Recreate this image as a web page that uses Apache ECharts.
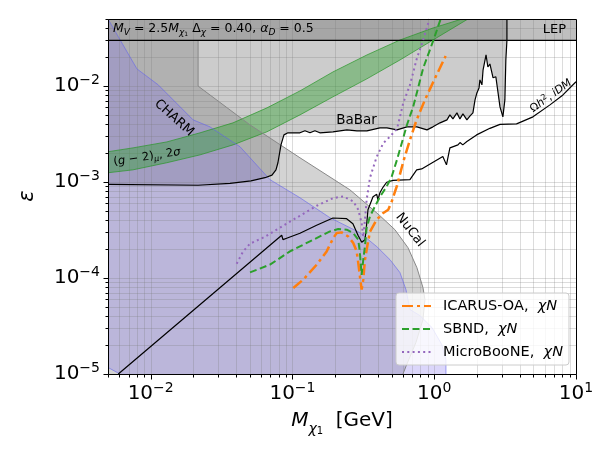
<!DOCTYPE html>
<html><head><meta charset="utf-8">
<script src="https://cdn.jsdelivr.net/npm/echarts@6/dist/echarts.min.js"></script>
<style>html,body{margin:0;padding:0;background:#fff;}#c{width:605px;height:456px;}</style>
</head><body><div id="c"></div>
<script>
// ---------------- data ----------------
const xRange = [0.005, 10];
const yRange = [1e-5, 0.05];
const xTicks = [0.01, 0.1, 1, 10];
const yTicks = [1e-5, 1e-4, 1e-3, 1e-2];
const minorMult = [1, 2, 3, 4, 5, 6, 7, 8, 9];
const lepEps = 0.03;

// CHARM / NuCal boundary
const charmEdge = [[0.0216,0.03],[0.0216,0.01],[0.0502,3.94e-3],[0.113,1.79e-3],[0.254,8.31e-4],[0.325,6.09e-4],[0.414,4.46e-4],[0.528,3.19e-4],[0.653,2.07e-4],[0.755,1.28e-4],[0.833,7.94e-5],[0.86,5.96e-5],[0.833,3.69e-5],[0.743,2.13e-5],[0.632,1.2e-5],[0.602,1e-5]];
// lavender region boundary
const lavEdge = [[0.005,0.05],[0.008,0.0151],[0.0113,0.0103],[0.0199,4.45e-3],[0.0262,3.76e-3],[0.0427,2.33e-3],[0.0694,1.06e-3],[0.113,6.86e-4],[0.184,4.25e-4],[0.299,2.97e-4],[0.394,2.12e-4],[0.488,1.55e-4],[0.573,1.14e-4],[0.632,7.57e-5],[0.675,4.69e-5],[0.793,4.06e-5],[0.964,3.05e-5],[1.13,2.03e-5],[1.21,1.41e-5],[1.21,1e-5]];
const lavCorner = [[0.00607,1e-5],[0.005,1.17e-5]];
// BaBar boundary
const babar = [[0.005,9.48e-4],[0.0216,9.26e-4],[0.0363,9.71e-4],[0.051,1.03e-3],[0.064,1.11e-3],[0.0717,1.18e-3],[0.0765,1.34e-3],[0.079,1.59e-3],[0.083,2.44e-3],[0.0871,3.1e-3],[0.093,3.26e-3],[0.113,3.26e-3],[0.1225,3.42e-3],[0.133,3.26e-3],[0.144,3.42e-3],[0.156,3.26e-3],[0.193,3.34e-3],[0.242,3.5e-3],[0.285,3.42e-3],[0.335,3.42e-3],[0.414,3.67e-3],[0.464,3.67e-3],[0.546,3.5e-3],[0.642,3.76e-3],[0.755,3.76e-3],[0.889,3.5e-3],[0.98,3.76e-3],[1.1,4.14e-3],[1.23,4.45e-3],[1.29,5.01e-3],[1.355,4.55e-3],[1.446,5.26e-3],[1.518,4.55e-3],[1.594,5.13e-3],[1.7,4.45e-3],[1.79,4.89e-3],[1.875,5.26e-3],[1.94,7.18e-3],[2.0,8.49e-3],[2.07,9.57e-3],[2.1,0.0116],[2.17,0.0103],[2.21,0.0147],[2.32,0.0211],[2.39,0.0158],[2.47,0.017],[2.6,0.0122],[2.72,0.0125],[2.91,6.07e-3],[3.05,4.78e-3],[3.15,7.18e-3],[3.2,0.0187],[3.257,0.03],[3.257,0.05]];
// (g-2) band
const g2Upper = [[0.005,2.07e-3],[0.0075,2.27e-3],[0.013,2.62e-3],[0.0223,3.26e-3],[0.0381,4.14e-3],[0.0661,5.93e-3],[0.113,8.91e-3],[0.193,0.01404],[0.335,0.0211],[0.573,0.0302],[0.98,0.0403],[1.57,0.05]];
const g2Lower = [[0.005,1.25e-3],[0.0075,1.34e-3],[0.013,1.59e-3],[0.0223,1.92e-3],[0.0381,2.44e-3],[0.0661,3.34e-3],[0.113,5.01e-3],[0.193,7.72e-3],[0.335,0.0119],[0.573,0.0187],[0.98,0.0302],[1.73,0.05]];
// relic target
const relic = [[0.00591,1e-5],[0.084,2.79e-4],[0.0857,2.51e-4],[0.091,2.6e-4],[0.113,2.93e-4],[0.148,3.55e-4],[0.193,4.22e-4],[0.241,4.15e-4],[0.267,3.68e-4],[0.29,2.79e-4],[0.308,2.36e-4],[0.325,2.51e-4],[0.334,3.68e-4],[0.341,5.15e-4],[0.37,7.03e-4],[0.393,7.46e-4],[0.401,6.54e-4],[0.414,7.73e-4],[0.435,8.82e-4],[0.462,9.95e-4],[0.512,1.04e-3],[0.674,1.06e-3],[0.752,1.34e-3],[0.815,1.37e-3],[1.15,1.85e-3],[1.22,1.51e-3],[1.29,2.27e-3],[1.33,2.35e-3],[1.47,2.44e-3],[1.52,2.58e-3],[1.59,2.44e-3],[1.7,2.64e-3],[1.99,3.1e-3],[2.47,3.63e-3],[2.91,3.99e-3],[3.81,4.04e-3],[4.97,4.78e-3],[6.55,6.37e-3],[8.09,8.09e-3],[10,0.0111]];
// sensitivities
const icarus = [[0.1014,7.88e-5],[0.1192,9.62e-5],[0.1482,1.378e-4],[0.1743,1.895e-4],[0.1941,2.61e-4],[0.205,2.94e-4],[0.2224,2.99e-4],[0.2474,2.71e-4],[0.2684,2.32e-4],[0.2837,1.9e-4],[0.2912,1.44e-4],[0.2992,1.04e-4],[0.3076,7.57e-5],[0.3158,9.62e-5],[0.3246,1.55e-4],[0.337,2.14e-4],[0.3521,3.04e-4],[0.3926,4.05e-4],[0.437,4.76e-4],[0.4738,5.15e-4],[0.5008,6.23e-4],[0.546,9.15e-4],[0.6048,1.63e-3],[0.6743,2.75e-3],[0.7516,4.45e-3],[0.86,7.18e-3],[0.984,0.01105],[1.204,0.0206]];
const sbnd = [[0.0502,1.146e-4],[0.0694,1.378e-4],[0.096,1.895e-4],[0.1328,2.41e-4],[0.1839,3.06e-4],[0.2104,3.24e-4],[0.2412,3.19e-4],[0.2684,2.94e-4],[0.2912,2.51e-4],[0.2992,1.82e-4],[0.3041,1.32e-4],[0.3076,1.08e-4],[0.3158,1.55e-4],[0.3246,2.14e-4],[0.3337,3.34e-4],[0.3521,4.38e-4],[0.3817,5.57e-4],[0.4143,7.03e-4],[0.4619,8.99e-4],[0.5008,1.135e-3],[0.546,1.705e-3],[0.6048,2.89e-3],[0.6423,3.95e-3],[0.7112,6.11e-3],[0.8367,0.01545],[0.9842,0.0297],[1.11,0.05]];
const uboone = [[0.0404,1.41e-4],[0.0448,1.88e-4],[0.0502,2.28e-4],[0.064,2.69e-4],[0.0861,3.51e-4],[0.113,4.46e-4],[0.1482,5.66e-4],[0.1941,6.81e-4],[0.2283,7.08e-4],[0.2684,6.28e-4],[0.2912,5.15e-4],[0.3076,3.74e-4],[0.3158,2.69e-4],[0.3246,4.05e-4],[0.3337,6.54e-4],[0.3521,1.108e-3],[0.3926,1.83e-3],[0.437,2.54e-3],[0.4873,2.98e-3],[0.546,3.58e-3],[0.573,4.78e-3],[0.6048,6.68e-3],[0.6743,0.01028],[0.7554,0.0196],[0.8325,0.0297],[0.9254,0.05]];

// ---------------- chart ----------------
const FONT = 'DejaVu Sans';
const chart = echarts.init(document.getElementById('c'), null, {renderer: 'canvas'});

function areaSeries(pts, fill, stroke) {
  return {type: 'custom', silent: true, clip: true, data: [pts[0]],
    renderItem: (p, api) => ({type: 'polygon',
      shape: {points: pts.map(q => api.coord(q))},
      style: {fill: fill, stroke: stroke || 'none', lineWidth: 1}})};
}
function lineSeries(name, pts, color, width, type, z) {
  return {type: 'line', name: name, data: pts, symbol: 'none', showSymbol: false, silent: true, clip: true,
    z: z || 3, lineStyle: {color: color, width: width, type: type || 'solid', cap: 'butt'},
    itemStyle: {color: color}};
}
function gridValues(bases, range) {
  const out = [];
  bases.forEach(b => minorMult.forEach(k => {
    const v = k * b;
    if (v >= range[0] * (1 - 1e-9) && v <= range[1] * (1 + 1e-9)) out.push({v: v, major: k === 1});
  }));
  return out;
}
const xGrid = gridValues([xTicks[0] / 10].concat(xTicks), xRange);
const yGrid = gridValues(yTicks, yRange);
const snap = v => Math.round(v) + 0.5;

function decoSeries(kind, z) {
  return {type: 'custom', silent: true, clip: false, z: z, data: [[xTicks[1], yTicks[1]]],
    renderItem: (p, api) => {
      const lb = api.coord([xRange[0], yRange[0]]), rt = api.coord([xRange[1], yRange[1]]);
      const L = snap(lb[0]), B = snap(lb[1]), R = snap(rt[0]), T = snap(rt[1]);
      const ch = [];
      if (kind === 'grid') {
        xGrid.forEach(g => { const x = snap(api.coord([g.v, yRange[0]])[0]);
          ch.push({type: 'line', shape: {x1: x, y1: T, x2: x, y2: B}, style: {stroke: 'rgba(120,120,120,0.26)', lineWidth: 1}}); });
        yGrid.forEach(g => { const y = snap(api.coord([xRange[0], g.v])[1]);
          ch.push({type: 'line', shape: {x1: L, y1: y, x2: R, y2: y}, style: {stroke: 'rgba(120,120,120,0.26)', lineWidth: 1}}); });
      } else {
        xGrid.forEach(g => { const x = snap(api.coord([g.v, yRange[0]])[0]);
          ch.push({type: 'line', shape: {x1: x, y1: B, x2: x, y2: B + (g.major ? 5 : 3)}, style: {stroke: '#000', lineWidth: 1}}); });
        yGrid.forEach(g => { const y = snap(api.coord([xRange[0], g.v])[1]);
          ch.push({type: 'line', shape: {x1: L, y1: y, x2: L - (g.major ? 5 : 3), y2: y}, style: {stroke: '#000', lineWidth: 1}}); });
        ch.push({type: 'rect', shape: {x: L, y: T, width: R - L, height: B - T}, style: {fill: 'none', stroke: '#000', lineWidth: 1}});
      }
      return {type: 'group', children: ch};
    }};
}

function powLabel(v) {
  const e = Math.log10(v), r = Math.round(e);
  if (Math.abs(e - r) > 1e-6) return '';
  return '{b|10}{s|' + (r < 0 ? '\u2212' : '') + Math.abs(r) + '}';
}
const tickRich = {
  b: {fontSize: 20, fontFamily: FONT, color: '#000', lineHeight: 26},
  s: {fontSize: 14, fontFamily: FONT, color: '#000', lineHeight: 14, verticalAlign: 'top'}
};

function rich(sz, subLh) {
  const lh = Math.round(sz * (subLh || 1.3));
  const base = {fontFamily: FONT, fill: '#000', color: '#000'};
  return {
    n: Object.assign({fontSize: sz, lineHeight: lh}, base),
    i: Object.assign({fontSize: sz, lineHeight: lh, fontStyle: 'italic'}, base),
    is: Object.assign({fontSize: Math.round(sz * 0.7), lineHeight: Math.round(sz * 0.7), fontStyle: 'italic', verticalAlign: 'bottom'}, base),
    ns: Object.assign({fontSize: Math.round(sz * 0.5), lineHeight: Math.round(sz * 0.5), verticalAlign: 'bottom'}, base),
    up: Object.assign({fontSize: Math.round(sz * 0.7), lineHeight: Math.round(sz * 0.7), verticalAlign: 'top'}, base)
  };
}
function txt(text, x, y, sz, rotDeg, align, subLh) {
  return {type: 'text', x: x, y: y, z: 20, rotation: (rotDeg || 0) * Math.PI / 180, silent: true,
    style: {text: text, rich: rich(sz, subLh), fontFamily: FONT, fontSize: sz, fill: '#000',
      align: align || 'center', verticalAlign: 'middle'}};
}

const charmPoly = [[xRange[0], lepEps]].concat(charmEdge, [[xRange[0], yRange[0]]]);
const lavPoly = lavEdge.concat(lavCorner);
const babarPoly = babar.concat([[xRange[0], yRange[1]]]);
const lepPoly = [[xRange[0], lepEps], [xRange[1], lepEps], [xRange[1], yRange[1]], [xRange[0], yRange[1]]];
const g2Poly = g2Upper.concat(g2Lower.slice().reverse());

const legendNames = ['ICARUS-OA', 'SBND', 'MicroBooNE'];

const option = {
  animation: false,
  backgroundColor: '#ffffff',
  grid: {left: 108, right: 29, top: 19, bottom: 82, outerBoundsMode: 'none'},
  xAxis: {type: 'log', logBase: 10, min: xRange[0], max: xRange[1],
    axisLine: {show: false}, axisTick: {show: false}, splitLine: {show: false}, minorTick: {show: false},
    axisLabel: {formatter: powLabel, margin: 7, rich: tickRich, showMinLabel: true, showMaxLabel: true}},
  yAxis: {type: 'log', logBase: 10, min: yRange[0], max: yRange[1],
    axisLine: {show: false}, axisTick: {show: false}, splitLine: {show: false}, minorTick: {show: false},
    axisLabel: {formatter: powLabel, margin: 8, rich: tickRich, showMinLabel: true, showMaxLabel: true}},
  legend: {orient: 'vertical', left: 396, top: 293, itemWidth: 29, itemHeight: 12, itemGap: 5,
    padding: [4, 6, 4, 5], backgroundColor: 'rgba(255,255,255,0.8)', borderColor: '#cccccc', borderWidth: 1, borderRadius: 3,
    data: legendNames,
    itemStyle: {opacity: 0, borderWidth: 0},
    formatter: n => n + ',  {i|\u03c7N}',
    textStyle: {fontSize: 14.5, fontFamily: FONT, color: '#000', lineHeight: 18, padding: [0, 0, 0, 7],
      rich: {i: {fontSize: 14.5, fontFamily: FONT, fontStyle: 'italic', color: '#000', lineHeight: 18}}}},
  series: [
    areaSeries(charmPoly, 'rgba(128,128,128,0.35)'),
    areaSeries(babarPoly, 'rgba(128,128,128,0.40)'),
    areaSeries(lavPoly, 'rgba(123,104,238,0.27)'),
    areaSeries(lepPoly, 'rgba(128,128,128,0.50)'),
    decoSeries('grid', 2),
    lineSeries('charmEdge', charmEdge, '#888888', 1),
    lineSeries('lavEdge', lavEdge, 'rgba(100,100,235,0.6)', 1),
    lineSeries('lavCorner', lavCorner, 'rgba(100,100,235,0.6)', 1),
    areaSeries(g2Poly, 'rgba(40,160,40,0.40)', 'rgba(40,150,40,0.7)'),
    lineSeries('babar', babar, '#000', 1.2),
    lineSeries('lep', [[xRange[0], lepEps], [xRange[1], lepEps]], '#000', 1.2),
    lineSeries('relic', relic, '#000', 1.2),
    lineSeries('ICARUS-OA', icarus, '#ff7f0e', 2.5, [11, 4, 3, 4], 4),
    lineSeries('SBND', sbnd, '#2ca02c', 2, [7, 3.5], 4),
    lineSeries('MicroBooNE', uboone, '#9467bd', 2, [2, 3.3], 4),
    decoSeries('frame', 6)
  ],
  graphic: [
    txt('{i|M}{is|V}{n| = 2.5}{i|M}{is|\u03c7}{ns|1}{n| \u0394}{is|\u03c7}{n| = 0.40, }{i|\u03b1}{is|D}{n| = 0.5}', 113, 29, 12.5, 0, 'left'),
    txt('{n|LEP}', 566, 30, 13, 0, 'right'),
    txt('{n|CHARM}', 174, 118, 13, -42),
    txt('{n|(}{i|g}{n| \u2212 2)}{is|\u03bc}{n|, 2}{i|\u03c3}', 147, 157, 11.5, 8.7),
    txt('{n|BaBar}', 356.5, 120, 13.5),
    txt('{n|NuCal}', 410, 230, 13, -52),
    txt('{n|\u03a9}{i|h}{up|2}{n|, }{i|iDM}', 551, 96, 11, 36),
    txt('{i|\u03b5}', 28, 196, 21, 90),
    txt('{i|M}{is|\u03c7}{ns|1}{n|  [GeV]}', 342, 421, 20, 0, 'center', 1.5)
  ]
};
chart.setOption(option);
</script>
</body></html>
